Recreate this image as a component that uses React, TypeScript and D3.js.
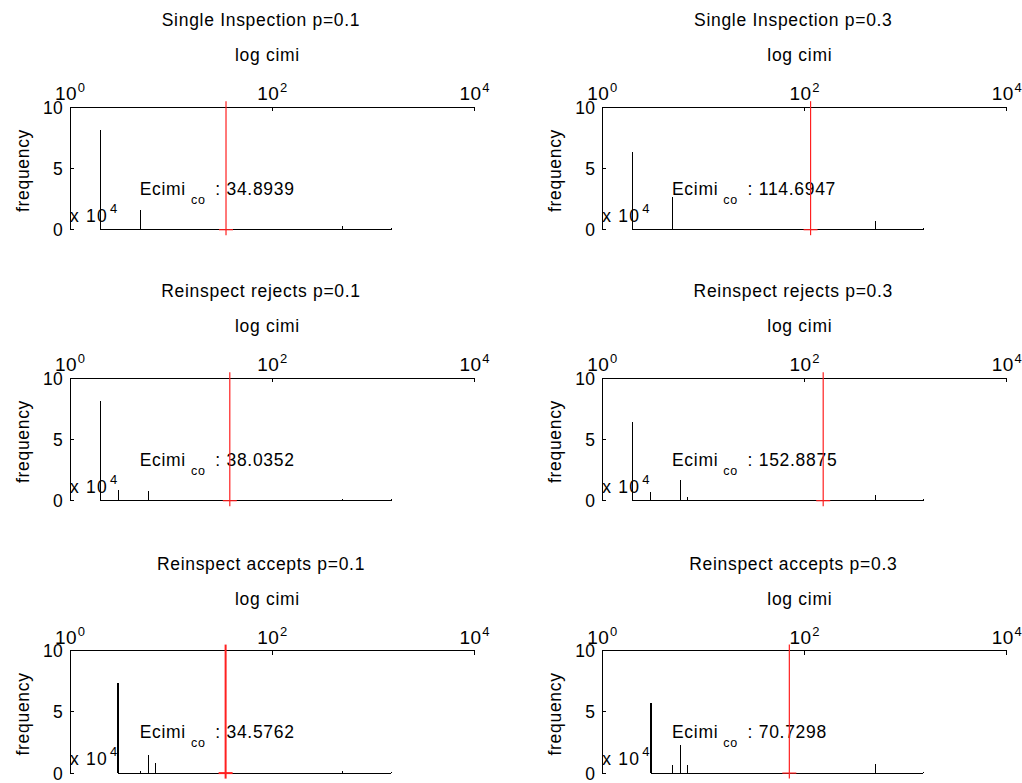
import React from "react";
import * as d3 from "d3";

// Panel captions, in reading order (row by row, left column first)
const panelTitles = [
  "Single Inspection p=0.1",
  "Single Inspection p=0.3",
  "Reinspect rejects p=0.1",
  "Reinspect rejects p=0.3",
  "Reinspect accepts p=0.1",
  "Reinspect accepts p=0.3",
];

// Expected cost of each scheme (position of the red marker)
const ecimiValues = [34.8939, 114.6947, 38.0352, 152.8875, 34.5762, 70.7298];

// Distinct cimi values observed in each scheme
const cimiSingle = [2, 5, 500, 1500];
const cimiRejects = [2, 3, 6, 7, 500, 1500];
const cimiAccepts = [3, 5, 6, 7, 500, 1500];

// Frequencies (x 10^4) of each cimi value
const freqSingle01 = [8.15, 1.6, 0.27, 0.1];
const freqSingle03 = [6.37, 2.67, 0.74, 0.1];
const freqRejects01 = [8.17, 0.9, 0.76, 0.08, 0.17, 0.1];
const freqRejects03 = [6.45, 0.74, 1.7, 0.3, 0.46, 0.1];
const freqAccepts01 = [7.35, 0.15, 1.47, 0.8, 0.2, 0.1];
const freqAccepts03 = [5.7, 0.65, 2.3, 0.68, 0.74, 0.1];

const panelCimi = [cimiSingle, cimiSingle, cimiRejects, cimiRejects, cimiAccepts, cimiAccepts];
const panelFreq = [freqSingle01, freqSingle03, freqRejects01, freqRejects03, freqAccepts01, freqAccepts03];

// Axis ticks
const xTickExponents = [0, 2, 4];
const yTicks = [0, 5, 10];
const multiplierExponent = 4;

// Label anchor in data space
const labelCimi = 5;
const labelFreq = 2.83;

// Layout
const W = 1022;
const H = 783;
const colLeft = [70, 602.3];
const rowTop = [107.3, 378.3, 650.7];
const plotW = 404.5;
const plotH = 122.4;
const FONT = "'Liberation Sans', Arial, Helvetica, sans-serif";
const FS = 17.5;
const LS = 0.7;
const thickFirstBar = [false, false, false, false, true, true];

function Panel({ idx }: { idx: number }) {
  const col = idx % 2;
  const row = Math.floor(idx / 2);
  const left = colLeft[col];
  const top = rowTop[row];
  const bottom = top + plotH;

  const x = d3.scaleLog().domain([1, 1e4]).range([left, left + plotW]);
  const y = d3.scaleLinear().domain([0, 10]).range([bottom, top]);

  const cimi = panelCimi[idx];
  const freq = panelFreq[idx];
  const e = ecimiValues[idx];
  const ex = x(e);

  const baseline = `M${x(cimi[0])},${y(0)}H${x(cimi[cimi.length - 1])}`;

  return (
    <g fontFamily={FONT} fill="#000">
      {/* title */}
      <text x={left + 191} y={top - 81} fontSize={FS} textAnchor="middle" letterSpacing={LS}>
        {panelTitles[idx]}
      </text>
      {/* top axis label */}
      <text x={left + 197.5} y={top - 46} fontSize={FS} textAnchor="middle" letterSpacing={LS}>
        log cimi
      </text>
      {/* top axis tick labels */}
      {xTickExponents.map((p) => (
        <text key={p} x={x(Math.pow(10, p))} y={top - 7} textAnchor="middle">
          <tspan fontSize={19} letterSpacing={0.3}>10</tspan>
          <tspan fontSize={13} dy={-8} dx={1}>{p}</tspan>
        </text>
      ))}
      {/* y tick labels */}
      {yTicks.map((t) => (
        <text key={t} x={left - 7} y={y(t) + 6.5} fontSize={FS} textAnchor="end" letterSpacing={0.3}>
          {t}
        </text>
      ))}
      {/* y label */}
      <text
        transform={`translate(${left - 41},${(top + bottom) / 2 + 2}) rotate(-90)`}
        fontSize={FS}
        textAnchor="middle"
        letterSpacing={LS}
      >
        frequency
      </text>
      {/* axis frame: top and left */}
      <g stroke="#000" strokeWidth={1} fill="none" shapeRendering="crispEdges">
        <path d={`M${left},${bottom}V${top}H${left + plotW}`} />
        {xTickExponents.map((p) => (
          <path key={p} d={`M${x(Math.pow(10, p))},${top}v4`} />
        ))}
        {yTicks.map((t) => (
          <path key={t} d={`M${left},${y(t)}h4`} />
        ))}
        {/* histogram baseline and stems */}
        <path d={baseline} />
        {cimi.map((c, i) => (
          <path
            key={i}
            d={`M${x(c)},${y(0)}V${y(freq[i])}`}
            strokeWidth={i === 0 && thickFirstBar[idx] ? 2 : 1}
          />
        ))}
      </g>
      {/* multiplier */}
      <text x={left} y={bottom - 8} fontSize={FS} letterSpacing={1.2}>
        <tspan>x 10</tspan>
        <tspan fontSize={13} dy={-9} dx={2}>{multiplierExponent}</tspan>
      </text>
      {/* expected value label */}
      <text x={x(labelCimi) - 1} y={y(labelFreq)} fontSize={FS} letterSpacing={LS}>
        <tspan>Ecimi</tspan>
        <tspan fontSize={12.5} dy={9} dx={5} letterSpacing={0.8}>co</tspan>
        <tspan dy={-9} dx={4}>{` : ${e.toFixed(4)}`}</tspan>
      </text>
      {/* expected value marker */}
      <g stroke="#ff2020" strokeWidth={idx === 4 ? 2 : 1.2}>
        <path d={`M${ex},${y(10.5)}V${y(-0.45)}`} />
        <path d={`M${ex - 7},${y(0)}H${ex + 7}`} />
      </g>
    </g>
  );
}

export default function App() {
  return (
    <svg
      width={W}
      height={H}
      viewBox={`0 0 ${W} ${H}`}
      style={{ position: "absolute", left: 0, top: 0, background: "#fff" }}
    >
      <rect width={W} height={H} fill="#fff" />
      {panelTitles.map((_, i) => (
        <Panel key={i} idx={i} />
      ))}
    </svg>
  );
}
